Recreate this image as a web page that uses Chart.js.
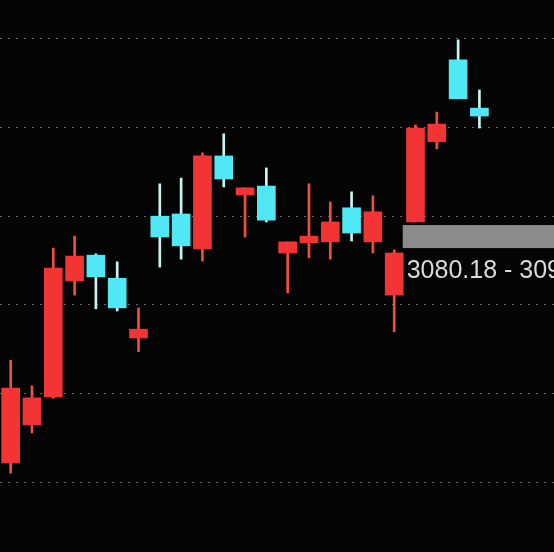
<!DOCTYPE html>
<html>
<head>
<meta charset="utf-8">
<style>
  html, body { margin: 0; padding: 0; background: #040404; overflow: hidden; }
  #wrap { width: 554px; height: 552px; position: relative; }
</style>
<script src="https://cdn.jsdelivr.net/npm/chart.js@4.4.1/dist/chart.umd.min.js"></script>
</head>
<body>
<div id="wrap"><canvas id="kChart" width="554" height="552"></canvas></div>
<script>
  // candle data
  var opens  = [3044.3, 3052.9, 3059.2, 3085.4, 3091.2, 3086.0, 3072.5, 3100.0, 3100.5, 3092.6, 3113.6, 3104.8,
                3106.8, 3091.7, 3094.0, 3094.2, 3101.9, 3094.2, 3082.2, 3098.7, 3116.8, 3135.3, 3124.4];
  var highs  = [3067.5, 3061.7, 3092.8, 3095.5, 3091.5, 3089.7, 3079.3, 3107.3, 3108.6, 3114.3, 3118.6, 3106.4,
                3110.9, 3094.2, 3107.3, 3103.2, 3105.5, 3104.6, 3092.4, 3120.6, 3123.5, 3139.8, 3128.5];
  var lows   = [3042.0, 3051.1, 3058.9, 3082.2, 3079.1, 3078.6, 3069.4, 3088.5, 3090.3, 3089.9, 3106.6, 3095.3,
                3098.7, 3082.7, 3090.6, 3090.3, 3094.4, 3091.7, 3073.9, 3098.7, 3115.2, 3126.5, 3119.9];
  var closes = [3061.2, 3059.0, 3088.3, 3091.0, 3086.3, 3079.3, 3074.5, 3095.3, 3093.3, 3113.6, 3108.4, 3106.4,
                3099.1, 3094.2, 3095.5, 3098.7, 3096.2, 3101.0, 3091.7, 3119.9, 3120.8, 3126.5, 3122.6];
  var slots = 26; // 23 candles + empty room on the right
  var tickValues = [3040, 3060, 3080, 3100, 3120, 3140];
  var yMin = 3024.2, yMax = 3148.8;

  // price range box on the right
  var bandFrom = 18.4, bandLow = 3092.8, bandHigh = 3098.0;
  var bandLabel = "3080.18 - 3095.62";

  const UP = "#f23434", DOWN = "#50e8f4";
  const UP_WICK = "#ee5040", DOWN_WICK = "#c8f4f4";

  var labels = Array.from({length: slots}, (_, i) => String(i + 1));
  var isUp = closes.map((c, i) => c >= opens[i]);

  var bandPlugin = {
    id: "bandPlugin",
    afterDatasetsDraw(chart) {
      var ctx = chart.ctx;
      var xs = chart.scales.x, ys = chart.scales.y;
      var left = xs.getPixelForValue(bandFrom);
      var top = ys.getPixelForValue(bandHigh);
      var bottom = ys.getPixelForValue(bandLow);
      ctx.save();
      ctx.fillStyle = "#8b8b8b";
      ctx.fillRect(left, top, chart.width - left, bottom - top);
      ctx.fillStyle = "#dadada";
      ctx.font = "25px 'Liberation Sans', Arial, sans-serif";
      ctx.textBaseline = "alphabetic";
      ctx.fillText(bandLabel, left + 4, bottom + 30);
      ctx.restore();
    }
  };

  var ctx = document.getElementById("kChart").getContext("2d");
  var kChart = new Chart(ctx, {
    type: "bar",
    data: {
      labels: labels,
      datasets: [{
        label: "body",
        data: opens.map((o, i) => [Math.min(o, closes[i]), Math.max(o, closes[i])]),
        backgroundColor: isUp.map(u => u ? UP : DOWN),
        barThickness: 18,
        borderWidth: 0,
        borderSkipped: false,
        grouped: false,
        order: 0
      }, {
        label: "wick",
        data: lows.map((l, i) => [l, highs[i]]),
        backgroundColor: isUp.map(u => u ? UP_WICK : DOWN_WICK),
        barThickness: 2,
        borderWidth: 0,
        borderSkipped: false,
        grouped: false,
        order: 1
      }]
    },
    options: {
      responsive: false,
      animation: false,
      maintainAspectRatio: false,
      layout: { padding: 0 },
      plugins: {
        legend: { display: false },
        tooltip: { enabled: false }
      },
      scales: {
        x: {
          display: false,
          offset: true
        },
        y: {
          min: yMin,
          max: yMax,
          afterBuildTicks: (axis) => { axis.ticks = tickValues.map(v => ({value: v})); },
          ticks: { display: false },
          grid: { color: "rgba(130,130,130,0.8)", lineWidth: 1, drawTicks: false },
          border: { display: false, dash: [2, 6] }
        }
      }
    },
    plugins: [bandPlugin]
  });
</script>
</body>
</html>
